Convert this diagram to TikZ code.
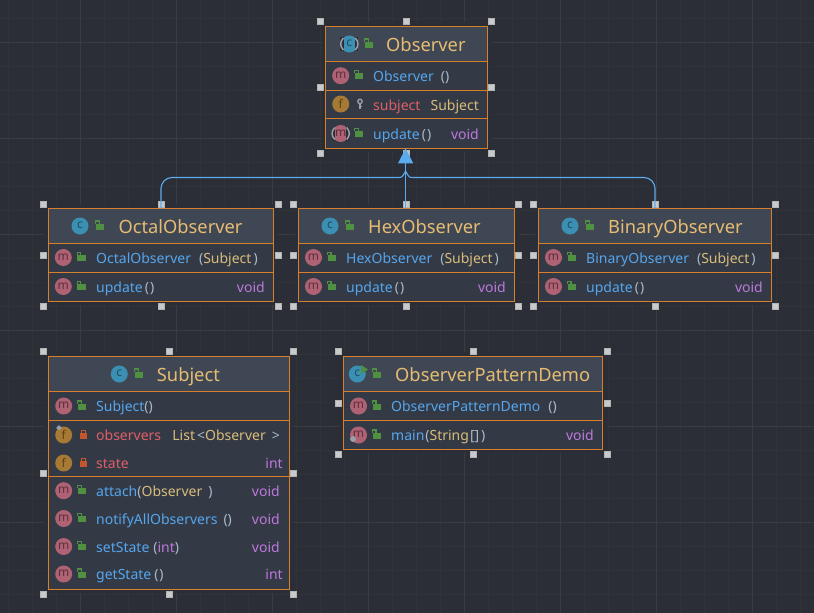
\documentclass[tikz,border=0pt]{standalone}
\usepackage{fontspec}
\setmainfont{Noto Sans}
\usetikzlibrary{calc,arrows.meta}

\definecolor{canvas}{HTML}{2B2E36}
\definecolor{gridminor}{HTML}{313335}
\definecolor{gridmajor}{HTML}{3B3D3C}
\definecolor{boxbody}{HTML}{343A45}
\definecolor{boxhead}{HTML}{404754}
\definecolor{boxline}{HTML}{D87F2C}
\definecolor{handlegray}{HTML}{C9CACB}
\definecolor{linkblue}{HTML}{5AACEE}
\definecolor{titlecol}{HTML}{E6BC72}
\definecolor{namecol}{HTML}{55A6EE}
\definecolor{fieldcol}{HTML}{DF5F68}
\definecolor{typecol}{HTML}{D9BC7C}
\definecolor{kwcol}{HTML}{BE78DC}
\definecolor{parcol}{HTML}{A9BACB}
\definecolor{classbadge}{HTML}{3B8FB2}
\definecolor{classletter}{HTML}{1F4E63}
\definecolor{methodbadge}{HTML}{AF6274}
\definecolor{methodletter}{HTML}{5E2F3C}
\definecolor{fieldbadge}{HTML}{A67A34}
\definecolor{fieldletter}{HTML}{5C4018}
\definecolor{lockgreen}{HTML}{4F9140}
\definecolor{lockred}{HTML}{C2572F}
\definecolor{markgray}{HTML}{9AA0A6}

\tikzset{
    classbox/.style={draw=boxline, line width=1pt, fill=boxbody, inner sep=0pt, outer sep=0pt},
    rule/.style={draw=boxline, line width=1pt},
    handle/.style={fill=handlegray, draw=handlegray!70!gray, line width=0.4pt},
    link/.style={draw=linkblue, line width=1.1pt},
    title/.style={text=titlecol, font=\fontsize{18.3}{20}\selectfont, anchor=base west, inner sep=0pt},
    rowtext/.style={text=namecol, font=\fontsize{14}{15}\selectfont, anchor=base west, inner sep=0pt},
    rowtype/.style={text=kwcol, font=\fontsize{14}{15}\selectfont, anchor=base east, inner sep=0pt},
    letter/.style={font=\fontsize{12}{12}\selectfont, inner sep=0pt}
}

\newcommand{\pr}[1]{\textcolor{parcol}{#1}}
\newcommand{\ty}[1]{\textcolor{typecol}{#1}}
\newcommand{\kw}[1]{\textcolor{kwcol}{#1}}
\newcommand{\gap}[1]{\hspace*{#1pt}}

% box with its header band, the clear margin and the eight resize handles
\newcommand{\classnode}[6]{
    \fill[canvas] ({#2-#4/2-4},{#3-#5/2-4}) rectangle ({#2+#4/2+4},{#3+#5/2+4});
    \node[classbox, minimum width=#4pt, minimum height=#5pt] (#1) at (#2,#3) {};
    \fill[boxhead] (#1.north west) rectangle (#1.east |- 0,#6);
    \draw[rule] (#1.north west) rectangle (#1.south east);
    \foreach \a/\dx/\dy in {north west/-5/-5, north/0/-5, north east/4/-5, west/-5/0, east/4/0, south west/-5/5, south/0/5, south east/4/5}
        \draw[handle] ($(#1.\a)+(\dx-3,\dy-3)$) rectangle +(6,6);
}
\newcommand{\badge}[5]{
    \fill[#4] (#2,#3) circle (8.5);
    \node[letter, text=#5] (icon#2-#3) at (#2,{#3-0.5}) {#1};
}
\newcommand{\lockopen}[2]{
    \begin{scope}[shift={(#1,#2)}]
        \fill[lockgreen] (0.8,-2.5) rectangle (9,3.6);
        \draw[lockgreen, line width=1.1pt] (0.6,-2.5) -- (0.6,-5) -- (4.2,-5) -- (4.2,-2.5);
    \end{scope}
}
\newcommand{\lockshut}[2]{
    \begin{scope}[shift={(#1,#2)}]
        \fill[lockred] (0,-1.5) rectangle (7.4,4.4);
        \draw[lockred, line width=1.1pt] (1.8,-1.5) -- (1.8,-4.4) -- (5.6,-4.4) -- (5.6,-1.5);
    \end{scope}
}
\newcommand{\keymark}[2]{
    \begin{scope}[shift={(#1,#2)}]
        \draw[markgray, line width=1.3pt] (0,-2.6) circle (2.2);
        \draw[markgray, line width=1.3pt] (0,-0.5) -- (0,5) (0,2.5) -- (1.8,2.5);
    \end{scope}
}
% grey brackets round a badge, for the abstract ones
\newcommand{\ringmark}[2]{
    \fill[canvas] ({#1-9},{#2-7}) rectangle ({#1-5.5},{#2+7});
    \fill[canvas] ({#1+5.5},{#2-7}) rectangle ({#1+9},{#2+7});
    \draw[markgray, line width=1.5pt] ({#1-6},{#2-6}) .. controls ({#1-9.5},{#2-2}) and ({#1-9.5},{#2+2}) .. ({#1-6},{#2+6});
    \draw[markgray, line width=1.5pt] ({#1+6},{#2-6}) .. controls ({#1+9.5},{#2-2}) and ({#1+9.5},{#2+2}) .. ({#1+6},{#2+6});
}
\newcommand{\member}[2]{
    \badge{m}{#1}{#2}{methodbadge}{methodletter}
    \lockopen{{#1+13.3}}{#2}
}
\newcommand{\classmark}[2]{
    \badge{c}{#1}{#2}{classbadge}{classletter}
    \lockopen{{#1+15}}{#2}
}
\newcommand{\fieldmark}[2]{\badge{f}{#1}{#2}{fieldbadge}{fieldletter}}

\begin{document}
\begin{tikzpicture}[x=1pt, y=-1pt]
    \useasboundingbox (0,0) rectangle (814,613);
    \fill[canvas] (0,0) rectangle (814,613);

    % grid, every 24 with a stronger line every 96
    \foreach \x in {8,32,...,800} \draw[gridminor] (\x,0) -- (\x,613);
    \foreach \y in {18,42,...,600} \draw[gridminor] (0,\y) -- (814,\y);
    \foreach \x in {80,176,...,800} \draw[gridmajor] (\x,0) -- (\x,613);
    \foreach \y in {42,138,...,600} \draw[gridmajor] (0,\y) -- (814,\y);

    % Observer
    \classnode{observer}{406.5}{87.4}{162}{122}{61.5}
    \draw[rule] (observer.west |- 0,61.5) -- (observer.east |- 0,61.5);
    \draw[rule] (observer.west |- 0,90.3) -- (observer.east |- 0,90.3);
    \draw[rule] (observer.west |- 0,118.3) -- (observer.east |- 0,118.3);
    \classmark{349.3}{44}
    \ringmark{349.3}{44}
    \node[title] (obstitle) at (386,51) {Observer};
    \member{340.7}{75.7}
    \node[rowtext] (obsctor) at (373,81) {Observer\gap{7}\pr{()}};
    \fieldmark{340.7}{104}
    \keymark{360}{104}
    \node[rowtext, text=fieldcol] (obsfield) at (373,110) {subject};
    \node[rowtype, text=typecol] (obsfieldtype) at (479,110) {Subject};
    \member{340.7}{133.5}
    \ringmark{340.7}{133.5}
    \node[rowtext] (obsupdate) at (373,139) {update\gap{2}\pr{(\gap{1})}};
    \node[rowtype] (obsupdatetype) at (479,139) {void};

    % OctalObserver
    \classnode{octal}{161}{255}{225.4}{92.6}{243.3}
    \draw[rule] (octal.west |- 0,243.3) -- (octal.east |- 0,243.3);
    \draw[rule] (octal.west |- 0,272.3) -- (octal.east |- 0,272.3);
    \classmark{80}{226}
    \node[title] (octtitle) at (118.3,233) {OctalObserver};
    \member{63.3}{257.5}
    \node[rowtext] (octctor) at (96,263) {OctalObserver\gap{8}\pr{(}\ty{Subject}\gap{2}\pr{)}};
    \member{63.3}{286.5}
    \node[rowtext] (octupdate) at (96,292) {update\gap{2}\pr{(\gap{1})}};
    \node[rowtype] (octupdatetype) at (265,292) {void};

    % HexObserver
    \classnode{hex}{406.5}{255}{216}{92.6}{243.3}
    \draw[rule] (hex.west |- 0,243.3) -- (hex.east |- 0,243.3);
    \draw[rule] (hex.west |- 0,272.3) -- (hex.east |- 0,272.3);
    \classmark{330}{226}
    \node[title] (hextitle) at (368,233) {HexObserver};
    \member{313.5}{257.5}
    \node[rowtext] (hexctor) at (346,263) {HexObserver\gap{8}\pr{(}\ty{Subject}\gap{2}\pr{)}};
    \member{313.5}{286.5}
    \node[rowtext] (hexupdate) at (346,292) {update\gap{2}\pr{(\gap{1})}};
    \node[rowtype] (hexupdatetype) at (506,292) {void};

    % BinaryObserver
    \classnode{binary}{655}{255}{233}{92.6}{243.3}
    \draw[rule] (binary.west |- 0,243.3) -- (binary.east |- 0,243.3);
    \draw[rule] (binary.west |- 0,272.3) -- (binary.east |- 0,272.3);
    \classmark{570}{226}
    \node[title] (bintitle) at (608,233) {BinaryObserver};
    \member{553.5}{257.5}
    \node[rowtext] (binctor) at (586,263) {BinaryObserver\gap{8}\pr{(}\ty{Subject}\gap{2}\pr{)}};
    \member{553.5}{286.5}
    \node[rowtext] (binupdate) at (586,292) {update\gap{2}\pr{(\gap{1})}};
    \node[rowtype] (binupdatetype) at (763,292) {void};

    % Subject
    \classnode{subject}{168.8}{472.8}{241}{233}{391.5}
    \draw[rule] (subject.west |- 0,391.5) -- (subject.east |- 0,391.5);
    \draw[rule] (subject.west |- 0,420.3) -- (subject.east |- 0,420.3);
    \draw[rule] (subject.west |- 0,476) -- (subject.east |- 0,476);
    \classmark{119.3}{374}
    \node[title] (subtitle) at (156.7,381) {Subject};
    \member{63.7}{406}
    \node[rowtext] (subctor) at (96,411.5) {Subject\pr{()}};
    \fieldmark{63.7}{435}
    \lockshut{80}{434.5}
    \fill[markgray] (56,428) -- (59,425) -- (62,428) -- (59,430) -- cycle;
    \node[rowtext, text=fieldcol] (subobservers) at (96,440.5) {observers};
    \node[rowtype, text=typecol] (subobstype) at (280,440.5) {List\gap{2}\pr{<}Observer\gap{6}\pr{>}};
    \fieldmark{63.7}{463}
    \lockshut{80}{462.5}
    \node[rowtext, text=fieldcol] (substate) at (96,468.5) {state};
    \node[rowtype] (substatetype) at (283,468.5) {int};
    \member{63.7}{490.7}
    \node[rowtext] (subattach) at (96,496.5) {attach\pr{(}\ty{Observer}\gap{6}\pr{)}};
    \node[rowtype] (subattachtype) at (280,496.5) {void};
    \member{63.7}{518.5}
    \node[rowtext] (subnotify) at (96,524.5) {notifyAllObservers\gap{6}\pr{()}};
    \node[rowtype] (subnotifytype) at (280,524.5) {void};
    \member{63.7}{546.5}
    \node[rowtext] (subset) at (96,552.5) {setState\gap{4}\pr{(}\kw{int}\pr{)}};
    \node[rowtype] (subsettype) at (280,552.5) {void};
    \member{63.7}{574}
    \node[rowtext] (subget) at (96,579.5) {getState\gap{3}\pr{(\gap{1})}};
    \node[rowtype] (subgettype) at (283,579.5) {int};

    % ObserverPatternDemo
    \classnode{demo}{473}{402.8}{259.4}{93}{391.3}
    \draw[rule] (demo.west |- 0,391.3) -- (demo.east |- 0,391.3);
    \draw[rule] (demo.west |- 0,420.3) -- (demo.east |- 0,420.3);
    \classmark{357.3}{374}
    \fill[lockgreen] (361,365) -- (368,369.5) -- (361,374) -- cycle;
    \node[title] (demotitle) at (395,381) {ObserverPatternDemo};
    \member{358.5}{406}
    \node[rowtext] (democtor) at (391,411.5) {ObserverPatternDemo\gap{8}\pr{()}};
    \member{358.5}{435}
    \fill[markgray] (353,439) circle (3);
    \node[rowtext] (demomain) at (391,440.5) {main\gap{1}\pr{(}\ty{String}\gap{1}\pr{[]}\gap{2}\pr{)}};
    \node[rowtype] (demomaintype) at (594,440.5) {void};

    % inheritance links, joined just under the triangle
    \coordinate (mergeleft) at (398,177.5);
    \coordinate (mergeright) at (413,177.5);
    \coordinate (merge) at (405.6,171);
    \draw[link, rounded corners=11pt] (octal.north) |- (mergeleft);
    \draw[link] (mergeleft) .. controls (402,177.5) .. (merge);
    \draw[link, rounded corners=11pt] (binary.north) |- (mergeright);
    \draw[link] (mergeright) .. controls (409,177.5) .. (merge);
    \draw[link, -{Triangle[length=15pt, width=15pt, fill=linkblue]}] ([xshift=-0.9pt]hex.north) -- ([xshift=-0.9pt]observer.south);
\end{tikzpicture}
\end{document}
